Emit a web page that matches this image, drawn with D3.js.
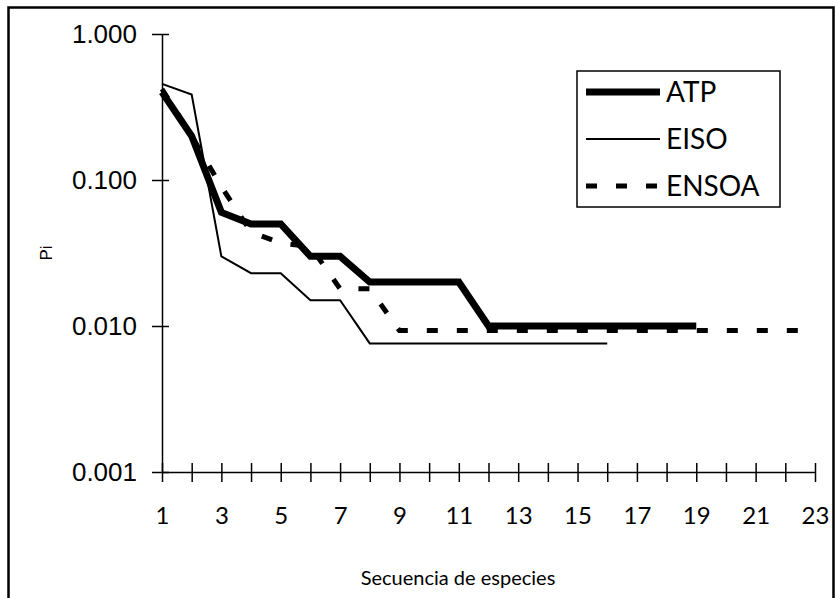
<!DOCTYPE html>
<html>
<head>
<meta charset="utf-8">
<script src="https://cdn.jsdelivr.net/npm/d3@7"></script>
<style>
  body { margin: 0; background: #fff; }
  svg { display: block; }
  .domain { stroke: #000; stroke-width: 1.5; }
</style>
</head>
<body>
<script>
// species sequence (x categories)
var species = d3.range(1, 24);
var xTickLabels = [1, 3, 5, 7, 9, 11, 13, 15, 17, 19, 21, 23];
var yTickValues = [0.001, 0.01, 0.1, 1];

// Pi values
var atp = [0.40, 0.20, 0.060, 0.050, 0.050, 0.030, 0.030, 0.020, 0.020, 0.020, 0.020,
    0.010, 0.010, 0.010, 0.010, 0.010, 0.010, 0.010, 0.010];
var eiso = [0.455, 0.385, 0.030, 0.023, 0.023, 0.015, 0.015, 0.0076, 0.0076, 0.0076,
    0.0076, 0.0076, 0.0076, 0.0076, 0.0076, 0.0076];
var ensoa = [0.42, 0.20, 0.090, 0.044, 0.037, 0.035, 0.018, 0.018, 0.0093, 0.0093,
    0.0093, 0.0093, 0.0093, 0.0093, 0.0093, 0.0093, 0.0093, 0.0093, 0.0093, 0.0093,
    0.0093, 0.0093, 0.0093];

var seriesNames = ["ATP", "EISO", "ENSOA"];

var width = 836, height = 598;
var humanist = "Lato, sans-serif";

var svg = d3.select("body").append("svg")
    .attr("width", width)
    .attr("height", height);

// outer frame
svg.append("rect")
    .attr("x", 8.5)
    .attr("y", 7.5)
    .attr("width", 825)
    .attr("height", 600)
    .attr("fill", "none")
    .attr("stroke", "#000")
    .attr("stroke-width", 2.5);

// scales
var x = d3.scaleLinear().domain([1, 23]).range([162, 815]);
var y = d3.scaleLog().domain([0.001, 1]).range([472, 34]);

// y axis
var yAxis = svg.append("g")
    .attr("transform", "translate(162,0)")
    .call(d3.axisLeft(y)
        .tickValues(yTickValues)
        .tickFormat(d3.format(".3f"))
        .tickSizeOuter(0)
        .tickSizeInner(10)
        .tickPadding(15));
yAxis.selectAll(".tick line")
    .attr("x1", 7)
    .attr("x2", -10)
    .attr("stroke-width", 1.5);
yAxis.selectAll("text")
    .attr("font-family", "Liberation Sans, Arial, sans-serif")
    .attr("font-size", 26)
    .attr("fill", "#000");

// x axis
var xAxis = svg.append("g")
    .attr("transform", "translate(0,472)")
    .call(d3.axisBottom(x)
        .tickValues(species)
        .tickFormat(function (d) {
            return xTickLabels.indexOf(d) >= 0 ? d : "";
        })
        .tickSizeOuter(0)
        .tickSizeInner(10)
        .tickPadding(25));
xAxis.selectAll(".tick line")
    .attr("y1", -9)
    .attr("y2", 10)
    .attr("stroke-width", 1.5);
xAxis.selectAll("text")
    .attr("font-family", humanist)
    .attr("font-size", 24)
    .attr("fill", "#000");

// axis titles
svg.append("text")
    .attr("x", 458)
    .attr("y", 585)
    .attr("text-anchor", "middle")
    .attr("font-family", humanist)
    .attr("font-size", 20)
    .text("Secuencia de especies");

svg.append("text")
    .attr("transform", "translate(52,253) rotate(-90)")
    .attr("text-anchor", "middle")
    .attr("font-family", "Liberation Sans, Arial, sans-serif")
    .attr("font-size", 17)
    .text("Pi");

// lines
var line = d3.line()
    .x(function (d, i) { return x(species[i]); })
    .y(function (d) { return y(d); });

svg.append("path")
    .attr("d", line(eiso))
    .attr("fill", "none")
    .attr("stroke", "#000")
    .attr("stroke-width", 2);

svg.append("path")
    .attr("d", line(ensoa))
    .attr("fill", "none")
    .attr("stroke", "#000")
    .attr("stroke-width", 5)
    .attr("stroke-dasharray", "11,19");

svg.append("path")
    .attr("d", line(atp))
    .attr("fill", "none")
    .attr("stroke", "#000")
    .attr("stroke-width", 7);

// legend
var legend = svg.append("g");
legend.append("rect")
    .attr("x", 577)
    .attr("y", 71)
    .attr("width", 203)
    .attr("height", 136)
    .attr("fill", "#fff")
    .attr("stroke", "#000")
    .attr("stroke-width", 1.5);

var legendStyles = [
    { w: 7, dash: null },
    { w: 2, dash: null },
    { w: 5, dash: "11,19" }
];

seriesNames.forEach(function (name, i) {
    var ly = 92 + i * 47;
    legend.append("line")
        .attr("x1", 586)
        .attr("x2", 660)
        .attr("y1", ly)
        .attr("y2", ly)
        .attr("stroke", "#000")
        .attr("stroke-width", legendStyles[i].w)
        .attr("stroke-dasharray", legendStyles[i].dash);
    legend.append("text")
        .attr("x", 666)
        .attr("y", ly + 10)
        .attr("font-family", humanist)
        .attr("font-size", 28)
        .text(name);
});
</script>
</body>
</html>
